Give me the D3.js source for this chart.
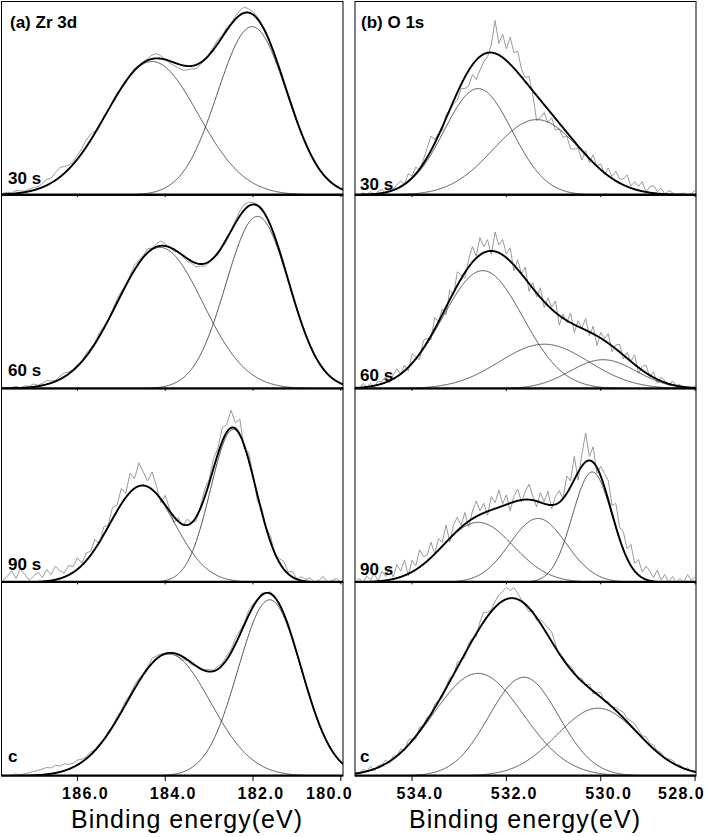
<!DOCTYPE html>
<html><head><meta charset="utf-8">
<script src="https://cdn.jsdelivr.net/npm/d3@7"></script>
<style>body{margin:0;background:#fff} svg{display:block}</style>
</head><body>
<svg id="chart" width="706" height="837"></svg>
<script>
// ---------- data ----------
const panelLabels = ["30 s", "60 s", "90 s", "c"];
const zrTicks = [186, 184, 182, 180];
const oTicks = [534, 532, 530, 528];
const zrDomain = [187.73, 179.95];
const oDomain = [535.21, 527.98];

// fitted components: [centre (eV), height (% of panel), sigma (eV)]
const zrPeaks30 = [[184.30, 69, 1.05], [182.02, 87, 0.79]];
const zrPeaks60 = [[184.12, 73, 0.98], [181.90, 89, 0.72]];
const zrPeaks90 = [[184.52, 50, 0.74], [182.45, 79, 0.52]];
const zrPeaksC  = [[183.92, 63, 0.95], [181.62, 91, 0.72]];

const oPeaks30 = [[532.60, 55, 0.72], [531.36, 39, 0.92]];
const oPeaks60 = [[532.50, 61, 0.85], [531.20, 23, 0.95], [529.95, 15, 0.70]];
const oPeaks90 = [[532.60, 31, 0.75], [531.33, 33, 0.60], [530.18, 57, 0.42]];
const oPeaksC  = [[532.60, 53, 0.95], [531.63, 51, 0.74], [530.06, 35, 0.87]];

// measured spectra: deviation of the recorded counts from the fit envelope (% of panel)
// Zr 3d sampled every 0.1 eV from 187.7 eV, O 1s every 0.08 eV from 535.2 eV
const zrResid30 = [0.5,1,0.5,1.5,1,0.5,1,1.5,1,2, 3,2.5,4,5,3.5,2,1.5,2,2.5,3.5,
  3,1,0,1,-0.5,0.5,1,0,-1,0.5, 1,0,0.5,1,2,2.5,1.5,0,-1,-1.5, -2,-2.5,-2,-1.5,-2,-1,-0.5,0.5,1.5,2,
  1,1.5,0.5,1.5,2.5,3,2,1.5,1,0.5, 1,0.5,0,0.5,-0.5,0.5,1,0,-0.5,0.5, 0,0.5,-0.5,0,0.5,0.5,0,0];
const zrResid60 = [0,0.5,0.5,1,0,1,0.5,1.5,0.5,1, 2,1,0.5,1.5,2,1,0.5,1,0,1.5,
  1,0.5,2,1,0,1,2,1.5,0.5,1, 2.5,1.5,1,2,0.5,1.5,2.5,1,0,-1, 0,-0.5,-1.5,-1,-2,-1,-1.5,-0.5,0,-1,
  0.5,1,0,1.5,2.5,3,2,1,0.5,1, 0,0.5,-0.5,0,0.5,0,-0.5,0.5,0,0.5, 0,-0.5,0,0.5,0,0,0.5,0];
const zrResid90 = [1,3,6,2,7,4,1,3,5,2, 6,3,7,4,2,5,3,6,1,4,
  2,5,-1,4,1,6,3,8,2,10, 5,12,7,3,9,4,-2,5,1,-3, 2,-1,3,0,-2,1,4,2,5,3,
  7,4,9,3,8,-2,4,1,-3,2, 0,3,-1,2,4,1,3,0,2,1, 2,0,1,3,0,1,2,0];
const zrResidC = [0.5,0,0.5,1,0.5,1,1.5,2,2.5,3, 3.5,3,4,3,3.5,2.5,2,2.5,1.5,1,
  1.5,0.5,1,0,1,0.5,1.5,1,2,1, 2,1.5,0.5,1,2.5,1.5,1,0,-0.5,0, -1,-1.5,-0.5,-1,0,-0.5,0.5,1,0.5,1.5,
  1,2,1.5,3,2,1,2.5,1.5,0.5,1, 0,1,-0.5,0.5,0,1,0,-0.5,0.5,0, 0.5,0,-0.5,0,0.5,0,0.5,0];

const oResid30 = [0.5,-0.5,1,0,1.5,-0.5,1,2,-1,1.5,0.5,2, 3,0,4,1,3.5,-1, 2,5,7.5,2, 1,-2,2,0,-1.5,
  -4,-2,-6,-8,-5,-10,-7,-4,-2, 4,17,6, 12,6,14,8,11,4, 2,5,-2, -13,-9, -4,-7,-2,-6,-3,
  -5,-2,-6,-4,-1,-5, 2,-2,4,0,3,-1, 4,1,5,2,3,6,1,4,2,5,0,3,4,1,3,0,2, 1,-0.5,0.5,1,0,0.5,2.5];
const oResid60 = [1,-1,2,0,1.5,-0.5,2,1,3,-1, 2,4,0,3,-2,5,1,-3,4,2, -2,6,0,3,-4,5,-1,7,2,-3,
  4,8,1,9,3,6,-2,10,4,8, 2,7,-3,5,0,6,-4,3,-2,5, -3,4,1,6,-5,2,-1,5,-4,3,
  0,6,-2,4,-5,3,1,5,-3,2, 4,-2,3,0,5,-3,2,4,-1,3, -2,2,1,-1,2,0,1,-1,0.5,0,1];
const oResid90 = [0,2,-1,3,1,4,0,5,2,6, 1,7,3,8,-1,6,2,9,4,3, 8,0,6,2,9,-2,5,7,1,6,
  -3,4,8,2,5,-2,7,3,9,1, 5,-4,3,6,-1,4,8,2,-3,5, 1,7,-2,4,6,0,9,3,12,-4,
  6,15,2,8,-3,5,7,10,4,12, 6,9,5,11,4,8,3,7,5,2, 6,1,4,0,3,-1,2,0,4,1,3];
const oResidC = [1,-0.5,1.5,0,2,-1,1,0.5,2,-1, 1.5,0,2,-1,2.5,1,-1.5,2,0,1.5, -1,2,0.5,-1.5,1,2,-1,3,0,-2,
  2,1,-1.5,3,5,2,1,3,4.5,5, 6,4,5.5,3,1,-1,-2,1,-1.5,2, 3,4,5,2,-1,1,0.5,1.5,1,-1,
  1.5,0,2,-1.5,1,2.5,-1,1,0,1.5, 2,3,1.5,2.5,3,2,1,2.5,1,2, 0.5,1.5,-0.5,1,1.5,0,1,-0.5,1,0,0.5];

const zrStart = 187.7, zrStep = 0.1;
const oStart = 535.2, oStep = 0.08;

// ---------- layout ----------
const svg = d3.select("#chart");
const top0 = 1.5, bottom0 = 776;
const nP = 4, pH = (bottom0 - top0) / nP;
const font = "'Liberation Sans', Arial, Helvetica, sans-serif";

const columns = [
  { x0: 1.5, x1: 343, labelLimit: 353, domain: zrDomain, ticks: zrTicks, head: "(a) Zr 3d", headX: 10,
    labelX: 8, labelDy: [11, 13, 12, 14], titleX: 187,
    start: zrStart, step: zrStep,
    peaks: [zrPeaks30, zrPeaks60, zrPeaks90, zrPeaksC],
    resid: [zrResid30, zrResid60, zrResid90, zrResidC] },
  { x0: 355, x1: 696, labelLimit: 705, domain: oDomain, ticks: oTicks, head: "(b) O 1s", headX: 361,
    labelX: 360, labelDy: [5, 8, 7, 14], titleX: 525,
    start: oStart, step: oStep,
    peaks: [oPeaks30, oPeaks60, oPeaks90, oPeaksC],
    resid: [oResid30, oResid60, oResid90, oResidC] }
];

const gauss = (e, p) => p[1] * Math.exp(-((e - p[0]) ** 2) / (2 * p[2] * p[2]));

columns.forEach((col, ci) => {
  const x = d3.scaleLinear().domain(col.domain).range([col.x0, col.x1]);
  const fine = d3.range(0, 801).map(i => col.domain[0] + (col.domain[1] - col.domain[0]) * i / 800);

  for (let k = 0; k < nP; k++) {
    const pTop = top0 + k * pH, pBot = pTop + pH;
    const y = d3.scaleLinear().domain([0, 100]).range([pBot, pTop]);
    const cid = "clip" + ci + "_" + k;
    svg.append("clipPath").attr("id", cid).append("rect")
      .attr("x", col.x0).attr("y", pTop).attr("width", col.x1 - col.x0).attr("height", pH);
    const g = svg.append("g").attr("clip-path", `url(#${cid})`);
    const peaks = col.peaks[k];
    const env = e => d3.sum(peaks, p => gauss(e, p));
    const line = d3.line().x(d => x(d[0])).y(d => y(d[1]));

    // measured spectrum
    const raw = col.resid[k].map((r, i) => {
      const e = col.start - i * col.step;
      return [e, Math.max(0, env(e) + r)];
    });
    g.append("path").attr("d", line(raw)).attr("fill", "none")
      .attr("stroke", "#9a9a9a").attr("stroke-width", 1);

    // components
    peaks.forEach(p => {
      g.append("path").attr("d", line(fine.map(e => [e, gauss(e, p)])))
        .attr("fill", "none").attr("stroke", "#333").attr("stroke-width", 0.85);
    });
    // envelope
    g.append("path").attr("d", line(fine.map(e => [e, env(e)])))
      .attr("fill", "none").attr("stroke", "#000").attr("stroke-width", 1.9);

    // baseline
    svg.append("line").attr("x1", col.x0).attr("x2", col.x1)
      .attr("y1", pBot - 0.5).attr("y2", pBot - 0.5)
      .attr("stroke", "#000").attr("stroke-width", 2.2);
    // small ticks below each panel
    col.ticks.forEach(t => {
      svg.append("line").attr("x1", x(t)).attr("x2", x(t))
        .attr("y1", pBot).attr("y2", pBot + (k === nP - 1 ? 5 : 2))
        .attr("stroke", "#000").attr("stroke-width", 1);
    });
    // panel frame
    svg.append("rect").attr("x", col.x0).attr("y", pTop)
      .attr("width", col.x1 - col.x0).attr("height", pH)
      .attr("fill", "none").attr("stroke", "#000").attr("stroke-width", 1);

    svg.append("text").attr("x", col.labelX).attr("y", pBot - col.labelDy[k])
      .attr("font-family", font).attr("font-weight", "bold").attr("font-size", 17)
      .text(panelLabels[k]);
  }

  svg.append("text").attr("x", col.headX).attr("y", 28)
    .attr("font-family", font).attr("font-weight", "bold").attr("font-size", 17)
    .text(col.head);

  // axis tick labels (last label pulled in so it stays inside the picture)
  col.ticks.forEach(t => {
    const lbl = svg.append("text").attr("y", 799)
      .attr("text-anchor", "middle").attr("font-family", font).attr("font-weight", "bold")
      .attr("font-size", 16).attr("letter-spacing", 1.4)
      .text(d3.format(".1f")(t));
    const w = lbl.node().getComputedTextLength();
    lbl.attr("x", Math.min(x(t) + 8, col.labelLimit - w / 2));
  });
  svg.append("text").attr("x", col.titleX).attr("y", 828)
    .attr("text-anchor", "middle").attr("font-family", font)
    .attr("font-size", 25).attr("letter-spacing", 1)
    .text("Binding energy(eV)");
});
</script>
</body></html>
